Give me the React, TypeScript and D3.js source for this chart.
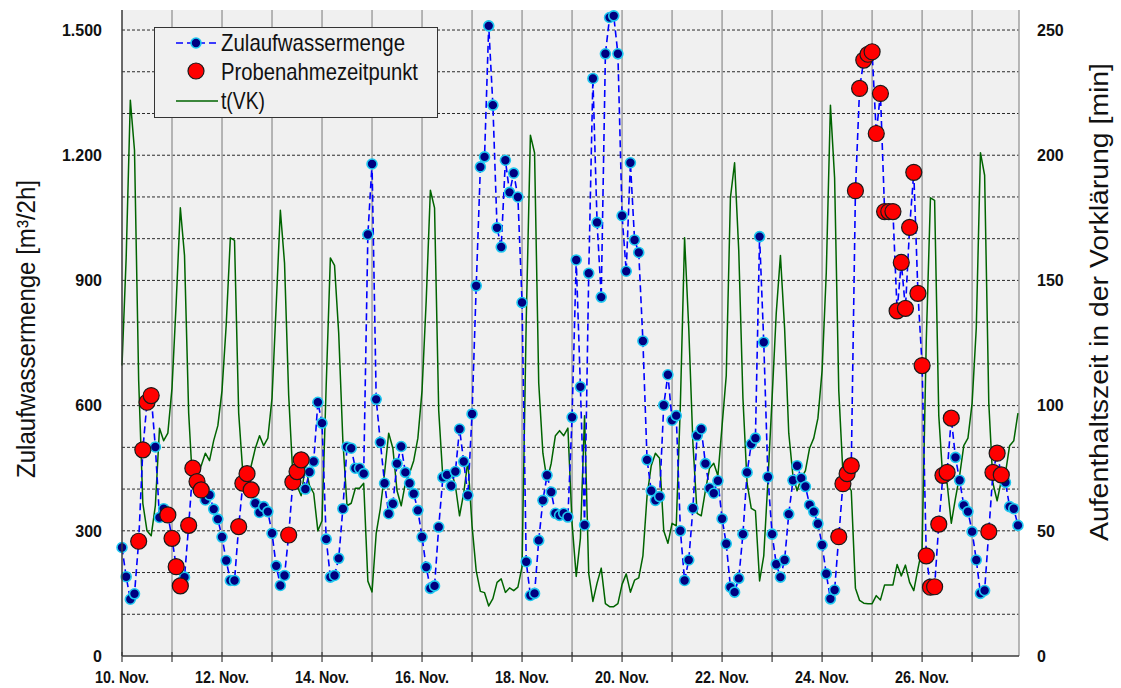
import React from "react";
import * as d3 from "d3";

// Zulaufwassermenge in m³ per 2 h, one value every 2 hours from 10 Nov 00:00
const zulauf: number[] = [
  260, 190, 136, 149, 275, 494, 608, 624, 501, 332, 353, 338,
  282, 214, 168, 189, 313, 450, 418, 398, 374, 386, 352, 328,
  285, 229, 181, 181, 310, 414, 437, 398, 366, 344, 358, 346,
  294, 216, 169, 193, 290, 417, 442, 470, 400, 441, 466, 608,
  558, 280, 189, 193, 234, 353, 501, 498, 450, 450, 437, 1010,
  1179, 615, 512, 414, 341, 365, 461, 502, 440, 414, 389, 349,
  285, 213, 162, 168, 309, 428, 434, 408, 442, 544, 466, 385,
  580, 887, 1172, 1196, 1510, 1320, 1026, 980, 1188, 1111, 1157, 1100,
  847, 226, 145, 150, 277, 373, 433, 393, 342, 337, 342, 333,
  572, 949, 645, 314, 917, 1384, 1039, 860, 1443, 1530, 1534, 1443,
  1055, 922, 1182, 997, 967, 755, 470, 396, 373, 382, 601, 674,
  565, 576, 300, 181, 230, 354, 528, 544, 461, 402, 390, 420,
  329, 269, 165, 153, 186, 292, 440, 508, 522, 1005, 752, 429,
  292, 220, 189, 230, 340, 421, 456, 426, 406, 362, 346, 317,
  266, 197, 137, 158, 286, 413, 437, 456, 1115, 1360, 1428, 1442,
  1448, 1252, 1348, 1065, 1065, 1065, 827, 943, 833, 1027, 1159, 869,
  696, 240, 165, 166, 316, 433, 440, 570, 476, 421, 361, 346,
  298, 230, 150, 157, 298, 440, 486, 434, 416, 358, 353, 313,
];

// Aufenthaltszeit in der Vorklärung t(VK) in minutes, same 2-hour steps
const tVK: number[] = [
  116, 159, 222, 202, 110, 61, 50, 48, 60, 91, 86, 89,
  107, 141, 179, 160, 97, 67, 72, 76, 81, 78, 86, 92,
  106, 132, 167, 166, 97, 73, 69, 76, 83, 88, 84, 87,
  103, 140, 178, 157, 104, 72, 68, 64, 76, 68, 65, 50,
  54, 108, 159, 156, 129, 86, 60, 61, 67, 67, 69, 29.9,
  25.6, 49, 59, 73, 89, 83, 66, 60, 69, 73, 78, 87,
  106, 142, 186, 179, 98, 71, 70, 74, 68, 56, 65, 78,
  52, 34, 25.8, 25.3, 20, 22.9, 29.4, 30.8, 25.4, 27.2, 26.1, 27.5,
  35.7, 134, 208, 201, 109, 81, 70, 77, 88, 90, 88, 91,
  53, 31.8, 47, 96, 32.9, 21.8, 29.1, 35.1, 20.9, 19.7, 19.7, 20.9,
  28.6, 32.8, 25.5, 30.3, 31.2, 40, 64, 76, 81, 79, 50, 45,
  53, 52, 101, 167, 131, 85, 57, 56, 66, 75, 77, 72,
  92, 112, 183, 197, 162, 103, 69, 59, 58, 30, 40, 70,
  103, 137, 160, 131, 89, 72, 66, 71, 74, 83, 87, 95,
  114, 153, 220, 191, 106, 73, 69, 66, 27.1, 22.2, 21.1, 20.9,
  20.9, 24.1, 22.4, 28.4, 28.4, 28.4, 36.5, 32, 36.3, 29.4, 26.1, 34.8,
  43, 126, 183, 182, 96, 70, 69, 53, 63, 72, 84, 87,
  101, 131, 201, 192, 101, 69, 62, 70, 73, 84, 86, 97,
];

// Positions (2-hour step numbers) of the sampling times
const probenahme: number[] = [
  4, 5, 6, 7, 11, 12, 13, 14, 16, 17, 18, 19,
  28, 29, 30, 31, 40, 41, 42, 43,
  172, 173, 174, 175, 176, 177, 178, 179, 180, 181, 182, 183,
  184, 185, 186, 187, 188, 189, 190, 191, 192, 193, 194, 195,
  196, 197, 198, 199, 208, 209, 210, 211,
];

const leftTicks = [0, 300, 600, 900, 1200, 1500];
const leftTickLabels = ["0", "300", "600", "900", "1.200", "1.500"];
const rightTicks = [0, 50, 100, 150, 200, 250];
const dayLabels = [
  "10. Nov.", "12. Nov.", "14. Nov.", "16. Nov.", "18. Nov.",
  "20. Nov.", "22. Nov.", "24. Nov.", "26. Nov.",
];

const W = 1121;
const H = 688;
const HOUR = 3600 * 1000;
const START = Date.UTC(2010, 10, 10);
const STEP = 2 * HOUR;
const END = START + 430.5 * HOUR;

const PLOT = { left: 122, right: 1019, top: 10, bottom: 656 };

const SANS = "'Liberation Sans', Arial, sans-serif";

export default function App() {
  const x = d3.scaleUtc().domain([new Date(START), new Date(END)]).range([PLOT.left, PLOT.right]);
  const yL = d3.scaleLinear().domain([0, 1548]).range([PLOT.bottom, PLOT.top]);
  const yR = d3.scaleLinear().domain([0, 258]).range([PLOT.bottom, PLOT.top]);
  const tx = (i: number) => x(new Date(START + i * STEP));

  const days = d3.utcDay.range(new Date(START), new Date(END));
  const gridVals = d3.range(100, 1501, 100);

  const lineQ = d3.line<number>().x((_, i) => tx(i)).y((v) => yL(v));
  const lineT = d3.line<number>().x((_, i) => tx(i)).y((v) => yR(v));

  const labelDays = days.filter((_, k) => k % 2 === 0);

  return (
    <svg width={W} height={H} style={{ position: "absolute", left: 0, top: 0 }}>
      <rect x={0} y={0} width={W} height={H} fill="#ffffff" />
      <rect
        x={PLOT.left}
        y={PLOT.top}
        width={PLOT.right - PLOT.left}
        height={PLOT.bottom - PLOT.top}
        fill="#f0f0f0"
      />
      {/* horizontal dashed grid */}
      {gridVals.map((v) => (
        <line
          key={"h" + v}
          x1={PLOT.left}
          x2={PLOT.right}
          y1={yL(v)}
          y2={yL(v)}
          stroke="#2a2a2a"
          strokeWidth={1}
          strokeDasharray="3,2"
        />
      ))}
      {/* vertical day grid */}
      {days.slice(1).map((d) => (
        <line
          key={"v" + d.getTime()}
          x1={x(d)}
          x2={x(d)}
          y1={PLOT.top}
          y2={PLOT.bottom}
          stroke="#a0a0a0"
          strokeWidth={1.5}
        />
      ))}
      <line x1={PLOT.right} x2={PLOT.right} y1={PLOT.top} y2={PLOT.bottom} stroke="#a0a0a0" strokeWidth={1.5} />

      {/* residence time */}
      <path d={lineT(tVK) || ""} fill="none" stroke="#006400" strokeWidth={1.5} strokeLinejoin="round" />

      {/* inflow */}
      <path
        d={lineQ(zulauf) || ""}
        fill="none"
        stroke="#0000ff"
        strokeWidth={1.6}
        strokeDasharray="7,4"
      />
      {zulauf.map((v, i) => (
        <circle key={"q" + i} cx={tx(i)} cy={yL(v)} r={5} fill="#000080" stroke="#1ec8f0" strokeWidth={1.6} />
      ))}
      {probenahme.map((i) => (
        <circle key={"p" + i} cx={tx(i)} cy={yL(zulauf[i])} r={8} fill="#ff0000" stroke="#1a1a1a" strokeWidth={1.2} />
      ))}

      {/* axes */}
      <line x1={PLOT.left} x2={PLOT.left} y1={PLOT.top} y2={PLOT.bottom} stroke="#3a3a3a" strokeWidth={1.5} />
      <line x1={PLOT.left} x2={PLOT.right} y1={PLOT.bottom} y2={PLOT.bottom} stroke="#3a3a3a" strokeWidth={1.5} />
      {days.map((d) => (
        <line
          key={"t" + d.getTime()}
          x1={x(d)}
          x2={x(d)}
          y1={PLOT.bottom - 4}
          y2={PLOT.bottom + 6}
          stroke="#3a3a3a"
          strokeWidth={1.2}
        />
      ))}
      {labelDays.map((d, k) => (
        <text
          key={"xl" + k}
          x={x(d)}
          y={683}
          textAnchor="middle"
          fontFamily={SANS}
          fontWeight="bold"
          fontSize={16}
          textLength={54}
          lengthAdjust="spacingAndGlyphs"
          fill="#111"
        >
          {dayLabels[k]}
        </text>
      ))}
      {leftTicks.map((v, k) => (
        <text
          key={"yl" + v}
          x={102}
          y={yL(v)}
          dy="0.36em"
          textAnchor="end"
          fontFamily={SANS}
          fontWeight="bold"
          fontSize={16}
          fill="#111"
        >
          {leftTickLabels[k]}
        </text>
      ))}
      {rightTicks.map((v) => (
        <text
          key={"yr" + v}
          x={1037}
          y={yR(v)}
          dy="0.36em"
          textAnchor="start"
          fontFamily={SANS}
          fontWeight="bold"
          fontSize={16}
          fill="#111"
        >
          {v}
        </text>
      ))}
      <text
        transform="translate(35,329) rotate(-90)"
        textAnchor="middle"
        fontFamily={SANS}
        fontSize={25}
        textLength={298}
        lengthAdjust="spacingAndGlyphs"
        fill="#111"
      >
        Zulaufwassermenge [m³/2h]
      </text>
      <text
        transform="translate(1108,302) rotate(-90)"
        textAnchor="middle"
        fontFamily={SANS}
        fontSize={26}
        textLength={478}
        lengthAdjust="spacingAndGlyphs"
        fill="#111"
      >
        Aufenthaltszeit in der Vorklärung [min]
      </text>

      {/* legend */}
      <g>
        <rect x={154.5} y={27.5} width={283} height={90} fill="#f0f0f0" stroke="#333" strokeWidth={1} />
        <line x1={176} x2={218} y1={43} y2={43} stroke="#0000ff" strokeWidth={1.6} strokeDasharray="7,4" />
        <circle cx={196} cy={43} r={5} fill="#000080" stroke="#1ec8f0" strokeWidth={1.6} />
        <text x={221} y={51} fontFamily={SANS} fontSize={24} textLength={184} lengthAdjust="spacingAndGlyphs" fill="#111">
          Zulaufwassermenge
        </text>
        <circle cx={196} cy={71} r={8} fill="#ff0000" stroke="#1a1a1a" strokeWidth={1.2} />
        <text x={221} y={80} fontFamily={SANS} fontSize={24} textLength={197} lengthAdjust="spacingAndGlyphs" fill="#111">
          Probenahmezeitpunkt
        </text>
        <line x1={176} x2={218} y1={101} y2={101} stroke="#006400" strokeWidth={1.5} />
        <text x={221} y={109} fontFamily={SANS} fontSize={24} textLength={44} lengthAdjust="spacingAndGlyphs" fill="#111">
          t(VK)
        </text>
      </g>
    </svg>
  );
}
